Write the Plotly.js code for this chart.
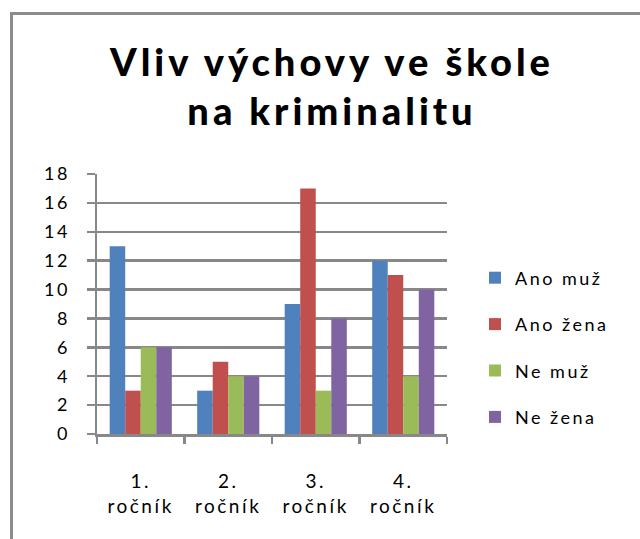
<!DOCTYPE html>
<html><head><meta charset="utf-8">
<script src="https://cdn.plot.ly/plotly-3.0.1.min.js"></script>
<style>
body{margin:0;padding:0;background:#fff;overflow:hidden}
#chart .xtick text, #chart .ytick text {letter-spacing: 2.5px;}
#chart .legendtext {letter-spacing: 2.5px;}
#chart .legend, #chart .legend * {clip-path: none !important;}
#chart .gtitle {letter-spacing: 4px;}
</style></head><body>
<div id="chart" style="width:640px;height:539px"></div>
<script>
const categories = ["1. ročník", "2. ročník", "3. ročník", "4. ročník"];
const tickLabels = ["1.<br>ročník", "2.<br>ročník", "3.<br>ročník", "4.<br>ročník"];
const anoMuz = [13, 3, 9, 12];
const anoZena = [3, 5, 17, 11];
const neMuz = [6, 4, 3, 4];
const neZena = [6, 4, 8, 10];
const seriesNames = ["Ano muž", "Ano žena", "Ne muž", "Ne žena"];
const yTicks = [0, 2, 4, 6, 8, 10, 12, 14, 16, 18];

const seriesValues = [anoMuz, anoZena, neMuz, neZena];
const colors = ["#4F81BD", "#C0504D", "#9BBB59", "#8064A2"];

const traces = seriesValues.map((vals, i) => ({
  type: "bar",
  name: seriesNames[i],
  x: categories,
  y: vals,
  marker: {color: colors[i], line: {width: 0}},
  legendgroup: "g" + i,
  hoverinfo: "skip"
}));

const fontFam = "Lato, 'Open Sans', sans-serif";
const L = 97, R = 447, T = 174, B = 434, W = 640, H = 539;
const px2x = p => (p - L) / (R - L);
const px2y = p => (B - p) / (B - T);
const frameStyle = {color: "#8C8C8C", width: 3};
const gridCol = "#888888";
const layout = {
  width: W, height: H,
  margin: {l: L, r: W - R, t: T, b: H - B, pad: 0},
  paper_bgcolor: "#ffffff",
  plot_bgcolor: "#ffffff",
  font: {family: fontFam, size: 18, color: "#000000"},
  barmode: "group",
  bargap: 0.29,
  bargroupgap: 0,
  title: {
    text: "Vliv výchovy ve škole<br>na kriminalitu",
    font: {family: fontFam, size: 38, weight: 900, color: "#000000"},
    x: 332 / W, xanchor: "center", xref: "container",
    y: 1 - 76 / H, yanchor: "top", yref: "container"
  },
  xaxis: {
    type: "category",
    tickvals: categories,
    ticktext: tickLabels,
    showgrid: false,
    showline: true, linecolor: gridCol, linewidth: 2.5,
    ticks: "outside", tickson: "boundaries", ticklen: 7, tickwidth: 2.5, tickcolor: gridCol,
    ticklabelstandoff: 29,
    tickfont: {family: fontFam, size: 19, color: "#000000"},
    zeroline: false, fixedrange: true
  },
  yaxis: {
    range: [0, 18],
    tickvals: yTicks,
    showgrid: true, gridcolor: gridCol, gridwidth: 2.5,
    showline: true, linecolor: gridCol, linewidth: 2.5,
    ticks: "outside", ticklen: 8, tickwidth: 2.5, tickcolor: gridCol,
    ticklabelstandoff: 13,
    tickfont: {family: fontFam, size: 18, color: "#000000"},
    zeroline: false, fixedrange: true
  },
  legend: {
    x: px2x(475), xanchor: "left", xref: "paper",
    y: px2y(259.5), yanchor: "top", yref: "paper",
    font: {family: fontFam, size: 18, color: "#000000"},
    tracegroupgap: 20,
    bgcolor: "rgba(0,0,0,0)",
    borderwidth: 0
  },
  shapes: [
    {type: "line", xref: "paper", yref: "paper", layer: "below",
     x0: px2x(11.5), x1: px2x(11.5), y0: px2y(13), y1: px2y(H + 20), line: frameStyle},
    {type: "line", xref: "paper", yref: "paper", layer: "below",
     x0: px2x(10), x1: px2x(W + 20), y0: px2y(13.5), y1: px2y(13.5), line: frameStyle}
  ],
  showlegend: true
};

Plotly.newPlot("chart", traces, layout, {displayModeBar: false, staticPlot: true});
</script>
</body></html>
